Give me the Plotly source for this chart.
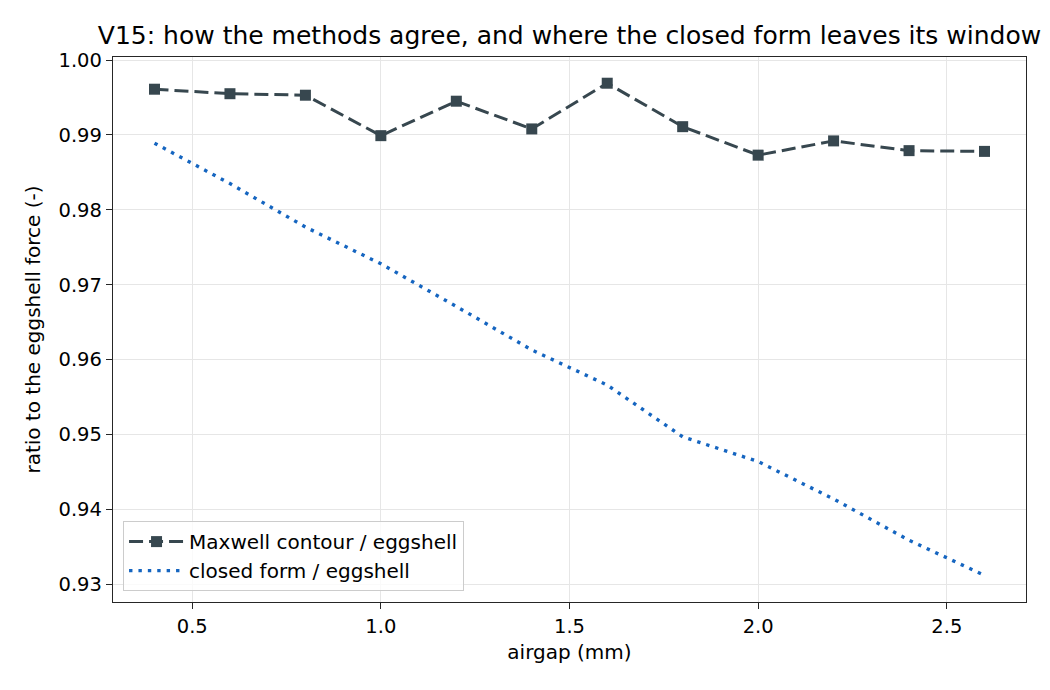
import plotly.graph_objects as go

airgap_mm = [0.4, 0.6, 0.8, 1.0, 1.2, 1.4, 1.6, 1.8, 2.0, 2.2, 2.4, 2.6]
maxwell_ratio = [0.9961, 0.9955, 0.9953, 0.9899, 0.9945, 0.9908,
                 0.9969, 0.9911, 0.9873, 0.9892, 0.9879, 0.9878]
closed_ratio = [0.9889, 0.9835, 0.9777, 0.9728, 0.9671, 0.9613,
                0.9566, 0.9497, 0.9464, 0.9414, 0.9359, 0.9312]

x_ticks = [0.5, 1.0, 1.5, 2.0, 2.5]
y_ticks = [0.93, 0.94, 0.95, 0.96, 0.97, 0.98, 0.99, 1.00]

font = "DejaVu Sans"
axis_col = "#262626"

fig = go.Figure()
fig.add_trace(go.Scatter(
    x=airgap_mm, y=maxwell_ratio, mode="lines+markers",
    name="Maxwell contour / eggshell",
    line=dict(color="#37474f", width=3, dash="14px,6px"),
    marker=dict(symbol="square", size=11, color="#37474f"),
))
fig.add_trace(go.Scatter(
    x=airgap_mm, y=closed_ratio, mode="lines",
    name="closed form / eggshell",
    line=dict(color="#1565c0", width=3.4, dash="3.4px,6px"),
))

axis_common = dict(
    showline=True, mirror=True, linecolor=axis_col, linewidth=1.4,
    ticks="outside", ticklen=6, tickwidth=1.3, tickcolor=axis_col,
    showgrid=True, gridcolor="#e6e6e6", gridwidth=1.2, zeroline=False,
    tickfont=dict(family=font, size=19.5, color="black"),
    title_font=dict(family=font, size=20, color="black"),
)

fig.update_layout(
    width=1050, height=690,
    paper_bgcolor="white", plot_bgcolor="white",
    margin=dict(l=105, r=32, t=49, b=96),
    title=dict(text="V15: how the methods agree, and where the closed form leaves its window",
               x=0.5, xref="paper", xanchor="center", y=0.96, yref="container",
               yanchor="middle", font=dict(family=font, size=25, color="black")),
    xaxis=dict(axis_common, range=[0.29, 2.71], tickvals=x_ticks,
               ticktext=[f"{v:.1f}" for v in x_ticks], title=dict(text="airgap (mm)", standoff=8)),
    yaxis=dict(axis_common, range=[0.92765, 1.0004], tickvals=y_ticks,
               ticktext=[f"{v:.2f}" for v in y_ticks],
               title=dict(text="ratio to the eggshell force (-)", standoff=12)),
    legend=dict(x=0.011, y=0.02, xanchor="left", yanchor="bottom",
                bgcolor="rgba(255,255,255,0.8)", bordercolor="#cccccc", borderwidth=1,
                itemwidth=55, font=dict(family=font, size=20, color="black")),
    showlegend=True,
)

fig.write_html("out.html")
